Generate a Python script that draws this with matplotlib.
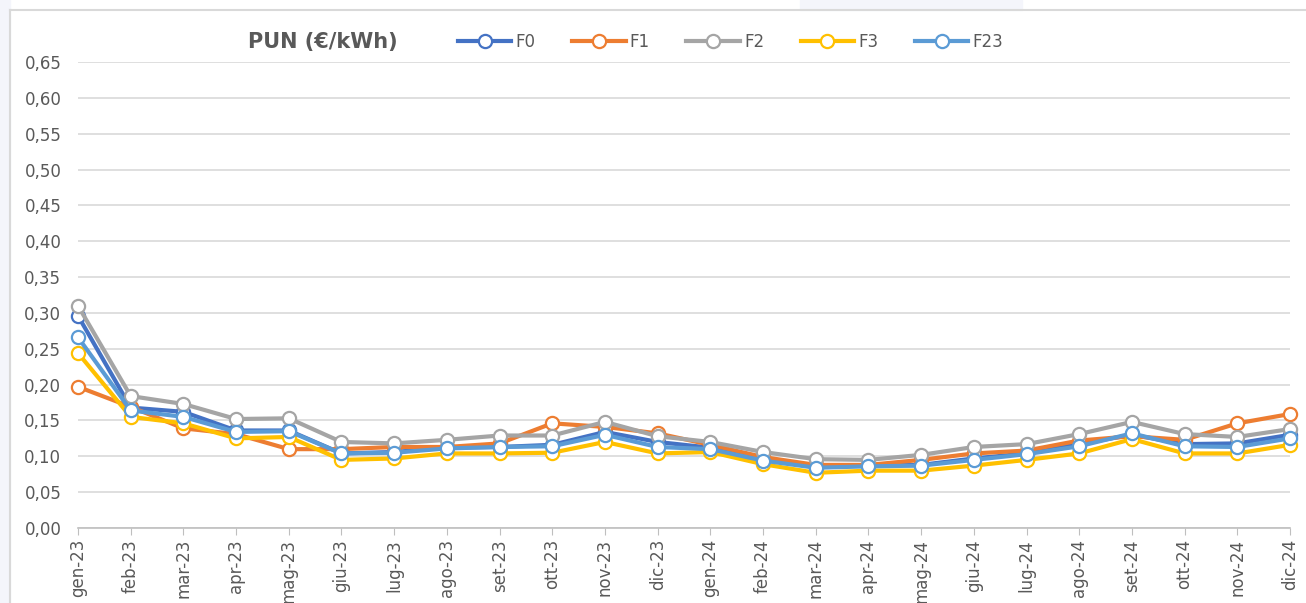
import matplotlib
matplotlib.use("Agg")
import matplotlib.pyplot as plt
from matplotlib.lines import Line2D
from matplotlib.patches import Rectangle

months = ["gen-23", "feb-23", "mar-23", "apr-23", "mag-23", "giu-23", "lug-23", "ago-23",
          "set-23", "ott-23", "nov-23", "dic-23", "gen-24", "feb-24", "mar-24", "apr-24",
          "mag-24", "giu-24", "lug-24", "ago-24", "set-24", "ott-24", "nov-24", "dic-24"]

F0 = [0.296, 0.168, 0.162, 0.136, 0.136, 0.104, 0.106, 0.112, 0.113, 0.116, 0.134, 0.120,
      0.112, 0.097, 0.087, 0.087, 0.088, 0.097, 0.104, 0.117, 0.130, 0.117, 0.118, 0.130]
F1 = [0.197, 0.169, 0.139, 0.131, 0.110, 0.110, 0.113, 0.113, 0.118, 0.146, 0.141, 0.132,
      0.116, 0.099, 0.088, 0.088, 0.095, 0.104, 0.108, 0.122, 0.128, 0.123, 0.146, 0.159]
F2 = [0.310, 0.184, 0.173, 0.152, 0.153, 0.120, 0.118, 0.123, 0.129, 0.129, 0.148, 0.128,
      0.120, 0.106, 0.096, 0.095, 0.102, 0.113, 0.117, 0.131, 0.148, 0.131, 0.127, 0.138]
F3 = [0.244, 0.155, 0.146, 0.125, 0.127, 0.095, 0.097, 0.104, 0.104, 0.105, 0.120, 0.104,
      0.106, 0.089, 0.077, 0.080, 0.080, 0.087, 0.095, 0.104, 0.124, 0.104, 0.104, 0.116]
F23 = [0.266, 0.164, 0.155, 0.134, 0.135, 0.104, 0.105, 0.111, 0.113, 0.114, 0.130, 0.113,
       0.110, 0.094, 0.084, 0.086, 0.087, 0.095, 0.103, 0.114, 0.132, 0.114, 0.113, 0.125]

series = [("F0", F0, "#4472C4"), ("F1", F1, "#ED7D31"), ("F2", F2, "#A5A5A5"),
          ("F3", F3, "#FFC000"), ("F23", F23, "#5B9BD5")]
yticks = [i * 0.05 for i in range(14)]

txt = "#595959"
W, H = 1306, 603
fig = plt.figure(figsize=(W / 100, H / 100), dpi=100)

# surrounding page bits
fig.patches.append(Rectangle((0, 0), 10 / W, 1, transform=fig.transFigure,
                             color="#f4f5fb", zorder=0))
fig.patches.append(Rectangle((800 / W, 1 - 10 / H), 222 / W, 10 / H, transform=fig.transFigure,
                             color="#f4f5fb", zorder=0))
fig.lines.append(Line2D([10 / W, 10 / W], [0, 1 - 10 / H], transform=fig.transFigure,
                        color="#d9d9d9", lw=1.5))
fig.lines.append(Line2D([10 / W, 1], [1 - 10 / H, 1 - 10 / H], transform=fig.transFigure,
                        color="#d9d9d9", lw=1.5))

ax = fig.add_axes([78 / W, (H - 528) / H, 1212 / W, 466 / H])
x = list(range(len(months)))
handles = []
for name, vals, col in series:
    h, = ax.plot(x, vals, color=col, lw=3, marker="o", ms=9.5, mfc="white",
                 mec=col, mew=1.6, clip_on=False, label=name, zorder=3)
    handles.append(h)

ax.set_xlim(0, len(months) - 1)
ax.set_ylim(0, 0.65)
ax.set_yticks(yticks)
ax.set_yticklabels([f"{v:.2f}".replace(".", ",") for v in yticks], color=txt, fontsize=12)
ax.set_xticks(x)
ax.set_xticklabels(months, rotation=90, color=txt, fontsize=12)
ax.grid(axis="y", color="#d9d9d9", lw=1.2)
ax.set_axisbelow(True)
for s in ["top", "right", "left"]:
    ax.spines[s].set_visible(False)
ax.spines["bottom"].set_color("#bfbfbf")
ax.spines["bottom"].set_linewidth(1.2)
ax.tick_params(axis="y", length=0, pad=12)
ax.tick_params(axis="x", length=5, color="#bfbfbf", pad=3)

fig.text(248 / W, 1 - 42 / H, "PUN (€/kWh)", fontsize=15, fontweight="bold",
         color=txt, va="center", ha="left")
leg = fig.legend(handles=handles, loc="center left", bbox_to_anchor=(458 / W, 1 - 42 / H),
                 ncol=5, frameon=False, fontsize=12, handlelength=3.2,
                 handletextpad=0.25, columnspacing=2.2, borderaxespad=0, borderpad=0)
for t in leg.get_texts():
    t.set_color(txt)

fig.savefig("out.png", dpi=100)
